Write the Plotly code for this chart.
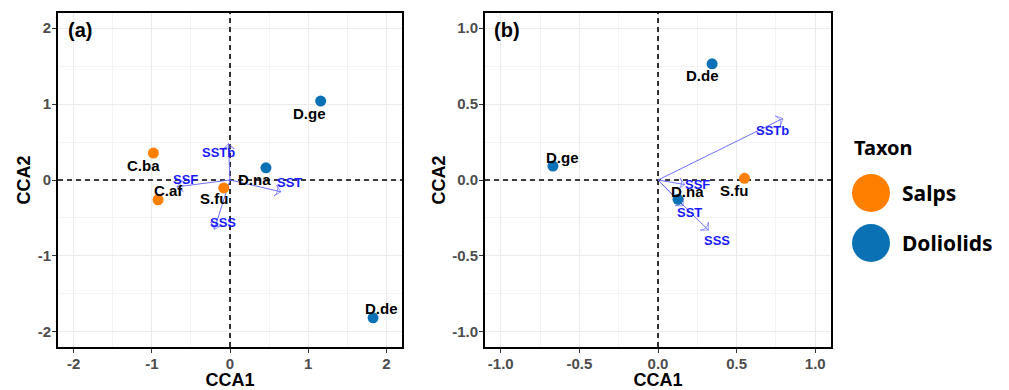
import plotly.graph_objects as go

# ---- Panel (a): species scores and environmental vectors ----
a_species = ["C.ba", "C.af", "S.fu", "D.na", "D.ge", "D.de"]
a_taxon = ["Salps", "Salps", "Salps", "Doliolids", "Doliolids", "Doliolids"]
a_cca1 = [-0.98, -0.92, -0.08, 0.46, 1.16, 1.83]
a_cca2 = [0.355, -0.26, -0.105, 0.16, 1.04, -1.815]
a_env = ["SSTb", "SSF", "SST", "SSS"]
a_env_cca1 = [-0.02, -0.68, 0.65, -0.20]
a_env_cca2 = [0.48, -0.09, -0.155, -0.65]
a_range = [-2.2, 2.2]
a_tickvals = [-2, -1, 0, 1, 2]
a_ticktext = ["-2", "-1", "0", "1", "2"]

# ---- Panel (b) ----
b_species = ["D.de", "D.ge", "S.fu", "D.na"]
b_taxon = ["Doliolids", "Doliolids", "Salps", "Doliolids"]
b_cca1 = [0.344, -0.668, 0.55, 0.127]
b_cca2 = [0.765, 0.092, 0.011, -0.127]
b_env = ["SSTb", "SSF", "SST", "SSS"]
b_env_cca1 = [0.794, 0.17, 0.16, 0.32]
b_env_cca2 = [0.405, -0.03, -0.17, -0.33]
b_range = [-1.1, 1.1]
b_tickvals = [-1.0, -0.5, 0.0, 0.5, 1.0]
b_ticktext = ["-1.0", "-0.5", "0.0", "0.5", "1.0"]

taxa = ["Salps", "Doliolids"]

# label nudges in pixels (xshift, yshift)
a_species_shift = [(-10, -12), (10, 9), (-10, -11), (-11, -12), (-11, -12), (8, 9)]
a_env_shift = [(-10, -9), (9, 7), (9, 9), (9, 7)]
b_species_shift = [(-10, -12), (10, 9), (-11, -12), (10, 8)]
b_env_shift = [(-10, -12), (13, 0), (6, -7), (9, -10)]

colors = {"Salps": "#FF7F00", "Doliolids": "#0A72B4"}
ARIAL = "Liberation Sans, Arial, sans-serif"
LEGEND_FONT = "Noto Sans, sans-serif"
arrow_color = "#6E6EFF"
env_text_color = "#1A1AFF"

fig = go.Figure()
annotations = []
shapes = []


def add_panel(xa, ya, rng, species, taxon, cca1, cca2, sp_shift,
              env, env1, env2, env_shift):
    # dashed reference lines through the origin
    dash = dict(color="black", width=1.6, dash="5px,4px")
    fig.add_trace(go.Scatter(x=[0, 0], y=rng, xaxis=xa, yaxis=ya, mode="lines",
                             line=dash, showlegend=False, hoverinfo="skip"))
    fig.add_trace(go.Scatter(x=rng, y=[0, 0], xaxis=xa, yaxis=ya, mode="lines",
                             line=dash, showlegend=False, hoverinfo="skip"))
    # environmental arrows
    for name, ex, ey in zip(env, env1, env2):
        fig.add_trace(go.Scatter(
            x=[0, ex], y=[0, ey], xaxis=xa, yaxis=ya,
            mode="lines+markers",
            line=dict(color=arrow_color, width=1),
            marker=dict(symbol=["circle", "arrow-wide-open"], size=[0, 8],
                        angleref="previous", color=arrow_color,
                        line=dict(color=arrow_color, width=1)),
            showlegend=False, hoverinfo="skip"))
    for name, ex, ey, (dx, dy) in zip(env, env1, env2, env_shift):
        annotations.append(dict(
            x=ex, y=ey, xref=xa, yref=ya, text=name, showarrow=False,
            xshift=dx, yshift=dy,
            font=dict(family=ARIAL, size=13, color=env_text_color, weight="bold")))
    # species points by taxon
    for t in taxa:
        idx = [i for i, v in enumerate(taxon) if v == t]
        fig.add_trace(go.Scatter(
            x=[cca1[i] for i in idx], y=[cca2[i] for i in idx],
            xaxis=xa, yaxis=ya, mode="markers",
            marker=dict(size=11, color=colors[t]),
            name=t, showlegend=False))
    for name, px, py, (dx, dy) in zip(species, cca1, cca2, sp_shift):
        annotations.append(dict(
            x=px, y=py, xref=xa, yref=ya, text=name, showarrow=False,
            xshift=dx, yshift=dy,
            font=dict(family=ARIAL, size=15, color="black", weight="bold")))


add_panel("x", "y", a_range, a_species, a_taxon, a_cca1, a_cca2, a_species_shift,
          a_env, a_env_cca1, a_env_cca2, a_env_shift)
add_panel("x2", "y2", b_range, b_species, b_taxon, b_cca1, b_cca2, b_species_shift,
          b_env, b_env_cca1, b_env_cca2, b_env_shift)


def axis_style(rng, tickvals, ticktext, domain, title, anchor, standoff):
    step = tickvals[1] - tickvals[0]
    return dict(
        range=rng, tickmode="array", tickvals=tickvals, ticktext=ticktext,
        domain=domain, anchor=anchor,
        showline=True, mirror=True, linecolor="black", linewidth=2,
        showgrid=True, gridcolor="#EBEBEB", gridwidth=1,
        minor=dict(tickmode="linear", tick0=0, dtick=step / 2, showgrid=True,
                   gridcolor="#F3F3F3", gridwidth=0.6, ticks=""),
        zeroline=False,
        ticks="outside", ticklen=4, tickcolor="#333333", tickwidth=1,
        ticklabelstandoff=-2,
        tickfont=dict(family=ARIAL, size=15, color="#4D4D4D", weight="bold"),
        title=dict(text=title, standoff=standoff,
                   font=dict(family=ARIAL, size=18, color="black", weight="bold")),
    )


W, H = 1009, 390
ydom = [(H - 347) / H, (H - 13) / H]
fig.update_layout(
    width=W, height=H,
    margin=dict(l=0, r=0, t=0, b=0),
    plot_bgcolor="white", paper_bgcolor="white",
    showlegend=False,
    xaxis=axis_style(a_range, a_tickvals, a_ticktext,
                     [58 / W, 402 / W], "CCA1", "y", 4),
    yaxis=axis_style(a_range, a_tickvals, a_ticktext,
                     ydom, "CCA2", "x", 2),
    xaxis2=axis_style(b_range, b_tickvals, b_ticktext,
                      [485 / W, 831 / W], "CCA1", "y2", 4),
    yaxis2=axis_style(b_range, b_tickvals, b_ticktext,
                      ydom, "CCA2", "x2", 2),
)

# panel tags
for tag, px in [("(a)", 66), ("(b)", 492)]:
    annotations.append(dict(
        x=px / W, y=(H - 30) / H, xref="paper", yref="paper", text=tag,
        showarrow=False, xanchor="left", yanchor="middle",
        font=dict(family=ARIAL, size=20, color="black", weight="bold")))

# taxon key
annotations.append(dict(
    x=852 / W, y=(H - 147) / H, xref="paper", yref="paper", text="Taxon",
    showarrow=False, xanchor="left", yanchor="middle",
    font=dict(family=LEGEND_FONT, size=20, color="black", weight="bold")))
for t, cy in zip(taxa, [193, 243]):
    shapes.append(dict(
        type="circle", xref="paper", yref="paper",
        xsizemode="pixel", ysizemode="pixel",
        xanchor=871 / W, yanchor=(H - cy) / H,
        x0=-19, x1=19, y0=-19, y1=19,
        fillcolor=colors[t], line=dict(width=0)))
    annotations.append(dict(
        x=900 / W, y=(H - cy) / H, xref="paper", yref="paper", text=t,
        showarrow=False, xanchor="left", yanchor="middle",
        font=dict(family=LEGEND_FONT, size=21, color="black", weight="bold")))

fig.update_layout(annotations=annotations, shapes=shapes)
fig.write_html("out.html")
